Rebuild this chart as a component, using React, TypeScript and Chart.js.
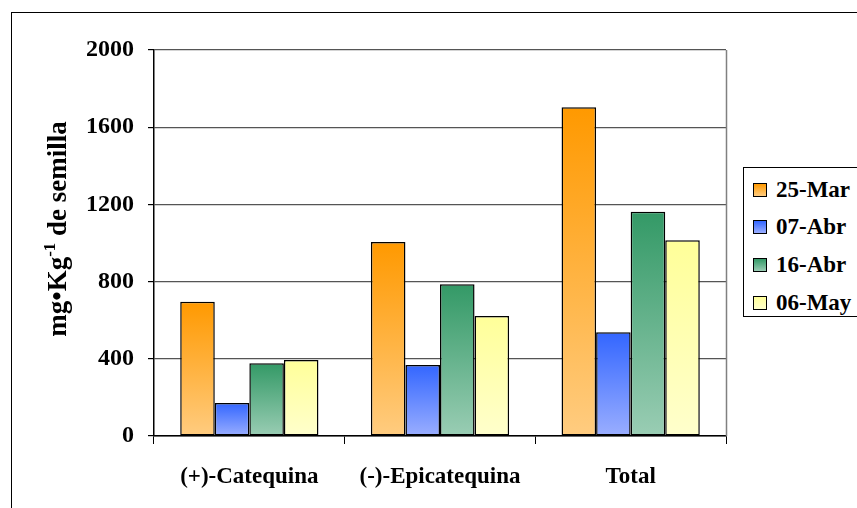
import React, { useEffect, useRef } from "react";
import { Chart, registerables } from "chart.js";

Chart.register(...registerables);

const categories = ["(+)-Catequina", "(-)-Epicatequina", "Total"];
const seriesNames = ["25-Mar", "07-Abr", "16-Abr", "06-May"];
const mar25 = [695, 1005, 1703];
const abr07 = [171, 368, 537];
const abr16 = [377, 786, 1162];
const may06 = [394, 622, 1014];
const seriesValues = [mar25, abr07, abr16, may06];
const yTickValues = [0, 400, 800, 1200, 1600, 2000];
const gradTop = ["#FF9900", "#3366FF", "#339966", "#FFFF99"];
const gradBottom = ["#FFCC80", "#9AAEFF", "#9ACDB4", "#FFFFCC"];

const FONT = "'Liberation Serif', 'Times New Roman', serif";

function barGradient(i: number) {
  return (ctx: any) => {
    const chart = ctx.chart;
    const y = chart.scales && chart.scales.y;
    if (!chart.chartArea || !y || ctx.type !== "data") return gradTop[i];
    const v = ctx.raw as number;
    const top = y.getPixelForValue(v);
    const bottom = y.getPixelForValue(0);
    if (!isFinite(top) || !isFinite(bottom) || top === bottom) return gradTop[i];
    const g = chart.ctx.createLinearGradient(0, top, 0, bottom);
    g.addColorStop(0, gradTop[i]);
    g.addColorStop(1, gradBottom[i]);
    return g;
  };
}

const decorPlugin = {
  id: "decor",
  beforeDraw(chart: any) {
    const c = chart.ctx;
    c.save();
    c.fillStyle = "#ffffff";
    c.fillRect(0, 0, chart.width, chart.height);
    c.strokeStyle = "#000";
    c.lineWidth = 1;
    c.strokeRect(11.5, 12.5, 2000, 2000);
    c.restore();
  },
  afterDraw(chart: any) {
    const c = chart.ctx;
    const a = chart.chartArea;
    c.save();
    c.strokeStyle = "#808080";
    c.lineWidth = 1.5;
    c.beginPath();
    c.moveTo(Math.round(a.right) + 0.5, a.top);
    c.lineTo(Math.round(a.right) + 0.5, a.bottom);
    c.stroke();
    const size = 27;
    const mainFont = `bold ${size}px ${FONT}`;
    const supFont = `bold ${Math.round(size * 0.62)}px ${FONT}`;
    const p1 = "mg\u2022Kg";
    const sup = "-1";
    const p2 = " de semilla";
    c.font = mainFont;
    const w1 = c.measureText(p1).width;
    const w3 = c.measureText(p2).width;
    c.font = supFont;
    const w2 = c.measureText(sup).width;
    const total = w1 + w2 + w3;
    c.translate(66, 229);
    c.rotate(-Math.PI / 2);
    c.fillStyle = "#000";
    c.textBaseline = "alphabetic";
    c.textAlign = "left";
    let x = -total / 2;
    c.font = mainFont;
    c.fillText(p1, x, 0);
    x += w1;
    c.font = supFont;
    c.fillText(sup, x, -size * 0.42);
    x += w2;
    c.font = mainFont;
    c.fillText(p2, x, 0);
    c.restore();
  },
};

function ChartCanvas() {
  const ref = useRef<HTMLCanvasElement | null>(null);
  useEffect(() => {
    if (!ref.current) return;
    const chart = new Chart(ref.current, {
      type: "bar",
      data: {
        labels: categories,
        datasets: seriesValues.map((vals, i) => ({
          label: seriesNames[i],
          data: vals,
          backgroundColor: barGradient(i),
          borderColor: "#000",
          borderWidth: 1.5,
          borderSkipped: false,
          barPercentage: 1,
          categoryPercentage: 0.725,
        })),
      },
      options: {
        responsive: false,
        animation: false,
        devicePixelRatio: 1,
        layout: { padding: { left: 0, top: 50, right: 131, bottom: 0 } },
        plugins: {
          legend: { display: false },
          tooltip: { enabled: false },
          title: { display: false },
        },
        scales: {
          x: {
            type: "category",
            offset: true,
            grid: {
              offset: true,
              drawOnChartArea: false,
              drawTicks: true,
              tickLength: 8,
              color: "#000",
            },
            border: { display: true, color: "#000", width: 1.5 },
            ticks: {
              color: "#000",
              padding: 19,
              maxRotation: 0,
              font: { family: FONT, size: 23, weight: "bold" },
            },
            afterFit: (s: any) => {
              s.height = 72;
            },
          },
          y: {
            min: 0,
            max: 2000,
            afterBuildTicks: (s: any) => {
              s.ticks = yTickValues.map((v) => ({ value: v }));
            },
            grid: {
              color: "#555",
              lineWidth: 1.2,
              drawTicks: true,
              tickLength: 6,
              tickColor: "#000",
            },
            border: { display: true, color: "#000", width: 1.5 },
            ticks: {
              color: "#000",
              padding: 14,
              callback: (v: any) => String(v),
              font: { family: FONT, size: 24, weight: "bold" },
            },
            afterFit: (s: any) => {
              s.width = 154;
            },
          },
        },
      },
      plugins: [decorPlugin],
    });
    return () => chart.destroy();
  }, []);
  return (
    <canvas
      ref={ref}
      width={857}
      height={508}
      style={{ position: "absolute", left: 0, top: 0, width: 857, height: 508 }}
    />
  );
}

function Legend() {
  const tops = [189, 226, 264, 302];
  return (
    <div
      style={{
        position: "absolute",
        left: 743,
        top: 167,
        width: 200,
        height: 150,
        border: "1.5px solid #000",
        background: "#fff",
        boxSizing: "border-box",
      }}
    >
      {seriesNames.map((n, i) => (
        <div
          key={n}
          style={{
            position: "absolute",
            left: 0,
            top: tops[i] - 167 - 14,
            height: 28,
            display: "flex",
            alignItems: "center",
            whiteSpace: "nowrap",
          }}
        >
          <span
            style={{
              display: "inline-block",
              marginLeft: 9,
              width: 12,
              height: 12,
              border: "1px solid #000",
              background: `linear-gradient(${gradTop[i]}, ${gradBottom[i]})`,
            }}
          />
          <span
            style={{
              marginLeft: 9,
              fontFamily: FONT,
              fontWeight: "bold",
              fontSize: 23,
              color: "#000",
            }}
          >
            {n}
          </span>
        </div>
      ))}
    </div>
  );
}

export default function App() {
  return (
    <div
      style={{
        position: "fixed",
        left: 0,
        top: 0,
        width: 857,
        height: 508,
        overflow: "hidden",
        background: "#fff",
      }}
    >
      <ChartCanvas />
      <Legend />
    </div>
  );
}
